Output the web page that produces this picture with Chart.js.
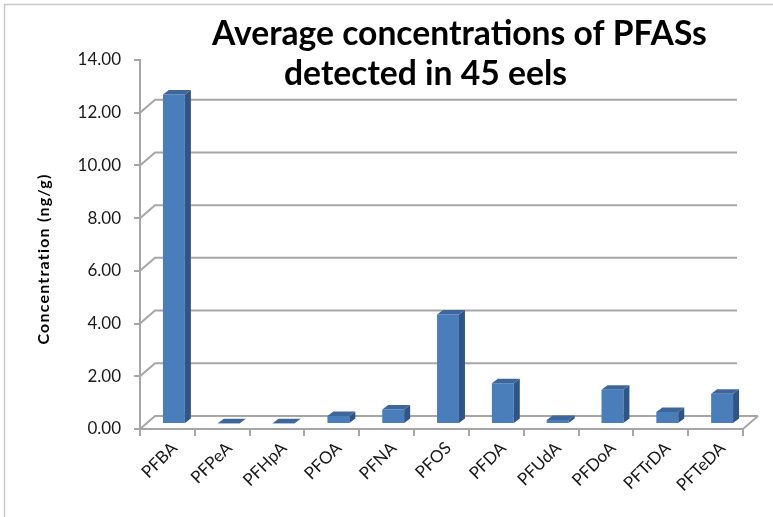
<!DOCTYPE html>
<html><head><meta charset="utf-8">
<script src="https://cdn.jsdelivr.net/npm/chart.js@4"></script>
<style>html,body{margin:0;padding:0;background:#fff}#wrap{width:773px;height:517px;position:relative}</style>
</head><body><div id="wrap"><canvas id="c" width="773" height="517"></canvas></div>
<script>
const categories = ['PFBA','PFPeA','PFHpA','PFOA','PFNA','PFOS','PFDA','PFUdA','PFDoA','PFTrDA','PFTeDA'];
const concentrations = [12.5, 0.03, 0.03, 0.3, 0.55, 4.15, 1.55, 0.15, 1.3, 0.46, 1.15];
const yTicks = [0, 2, 4, 6, 8, 10, 12, 14];
const titleLines = ['Average concentrations of PFASs', 'detected in 45 eels'];
const yAxisTitle = 'Concentration (ng/g)';

const GRID = '#a6a6a6';
const FONT = 'Lato';

const threeD = {
  id: 'threeD',
  beforeDraw(chart) {
    const ctx = chart.ctx;
    ctx.save();
    ctx.fillStyle = '#fff';
    ctx.fillRect(0, 0, chart.width, chart.height);
    ctx.strokeStyle = '#c8c8c8';
    ctx.lineWidth = 1.5;
    ctx.strokeRect(4.5, 4.5, chart.width + 20, chart.height + 20);
    ctx.restore();
  },
  beforeDatasetsDraw(chart) {
    const { ctx, chartArea: a, scales: { y } } = chart;
    const dx = 15, dy = -13;
    ctx.save();
    ctx.strokeStyle = GRID;
    ctx.lineWidth = 2;
    yTicks.forEach(v => {
      if (v >= y.max) return;
      const py = y.getPixelForValue(v);
      ctx.beginPath();
      ctx.moveTo(a.left, py);
      ctx.lineTo(a.left + dx, py + dy);
      ctx.lineTo(v === y.min ? a.right + dx : a.right - 6, py + dy);
      ctx.stroke();
    });
    const p0 = y.getPixelForValue(y.min);
    ctx.beginPath();
    ctx.moveTo(a.right, p0);
    ctx.lineTo(a.right + dx, p0 + dy);
    ctx.stroke();
    ctx.restore();
    ctx.save();
    ctx.translate(6.5, -5);
  },
  afterDatasetsDraw(chart) {
    const ctx = chart.ctx;
    const fdx = 6, fdy = -4.5;
    chart.getDatasetMeta(0).data.forEach(bar => {
      const { x, y, base, width } = bar.getProps(['x', 'y', 'base', 'width'], true);
      const l = x - width / 2, r = x + width / 2;
      ctx.fillStyle = '#2f5587';
      ctx.beginPath();
      ctx.moveTo(r, y); ctx.lineTo(r + fdx, y + fdy); ctx.lineTo(r + fdx, base + fdy); ctx.lineTo(r, base);
      ctx.closePath(); ctx.fill();
      ctx.fillStyle = '#3d679c';
      ctx.beginPath();
      ctx.moveTo(l, y); ctx.lineTo(l + fdx, y + fdy); ctx.lineTo(r + fdx, y + fdy); ctx.lineTo(r, y);
      ctx.closePath(); ctx.fill();
    });
    ctx.restore();
  },
  afterDraw(chart) {
    const ctx = chart.ctx;
    ctx.save();
    ctx.fillStyle = '#000';
    ctx.textBaseline = 'alphabetic';
    ctx.textAlign = 'left';
    let size = 28;
    ctx.font = `bold ${size}px ${FONT}`;
    const w = ctx.measureText(titleLines[0]).width;
    size = size * 495 / w;
    ctx.font = `bold ${size}px ${FONT}`;
    ctx.fillText(titleLines[0], 212, 45);
    ctx.fillText(titleLines[1], 284, 85);
    ctx.restore();
    // y-axis title
    ctx.save();
    ctx.translate(44, 259);
    ctx.rotate(-Math.PI / 2);
    ctx.font = `bold 16px ${FONT}`;
    if ('letterSpacing' in ctx) ctx.letterSpacing = '1.2px';
    ctx.textAlign = 'center';
    ctx.textBaseline = 'middle';
    ctx.fillStyle = '#000';
    ctx.fillText(yAxisTitle, 0, 0);
    ctx.restore();
  }
};

new Chart(document.getElementById('c'), {
  type: 'bar',
  data: {
    labels: categories,
    datasets: [{
      data: concentrations,
      backgroundColor: '#4a7ebb',
      borderWidth: 0,
      barPercentage: 0.4,
      categoryPercentage: 1
    }]
  },
  options: {
    responsive: false,
    animation: false,
    devicePixelRatio: 1,
    layout: { padding: { left: 0, top: 60, right: 30, bottom: 0 } },
    plugins: { legend: { display: false }, title: { display: false }, tooltip: { enabled: false } },
    scales: {
      x: {
        offset: true,
        grid: { display: true, drawOnChartArea: false, drawTicks: true, tickLength: 7, color: GRID, lineWidth: 2, offset: true },
        border: { display: true, color: GRID, width: 2 },
        ticks: { maxRotation: 45, minRotation: 45, autoSkip: false, font: { family: FONT, size: 17 }, color: '#1a1a1a', padding: 2, labelOffset: 7 },
        afterFit(s) { s.height = 88; }
      },
      y: {
        min: 0, max: 14,
        afterBuildTicks(s) { s.ticks = yTicks.map(v => ({ value: v })); },
        grid: { display: true, drawOnChartArea: false, drawTicks: true, tickLength: 6, color: GRID, lineWidth: 2 },
        border: { display: true, color: GRID, width: 2 },
        ticks: { callback: v => Number(v).toFixed(2), font: { family: FONT, size: 17 }, color: '#1a1a1a', padding: 13 },
        title: { display: false },
        afterFit(s) { s.width = 140; }
      }
    }
  },
  plugins: [threeD]
});
</script>
</body></html>
